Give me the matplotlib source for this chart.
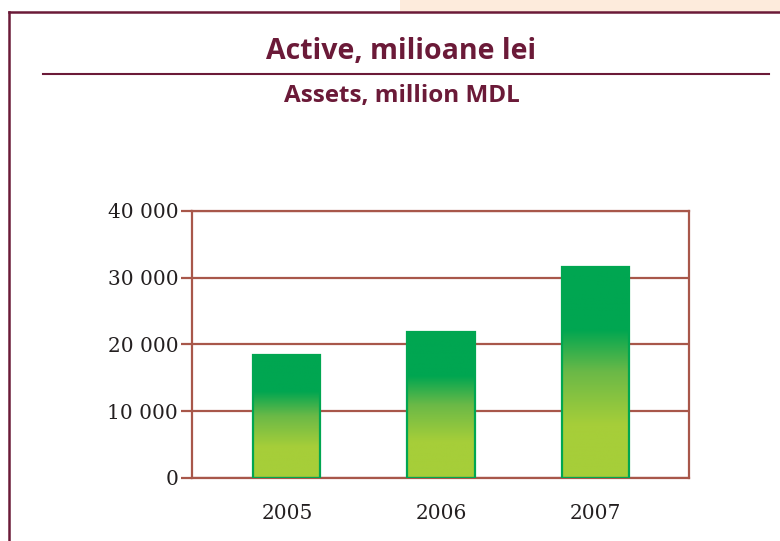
import numpy as np
import matplotlib
matplotlib.use('Agg')
import matplotlib.pyplot as plt
from matplotlib.colors import LinearSegmentedColormap
from matplotlib.patches import Rectangle
from matplotlib.lines import Line2D
from matplotlib.ticker import FuncFormatter

# Datos
years = ['2005', '2006', '2007']
assets = [18450, 21850, 31650]
y_ticks = [0, 10000, 20000, 30000, 40000]

title_ro = 'Active, milioane lei'
title_en = 'Assets, million MDL'

maroon = '#6b1a38'
grid_col = '#a8574a'
green = '#00a651'
lime = '#a6ce39'

fig = plt.figure(figsize=(7.8, 5.41), dpi=100)

# Marco exterior y franja beige
fig.patches.append(Rectangle((0.513, 0.977), 0.49, 0.03, transform=fig.transFigure,
                             facecolor='#fdebdc', edgecolor='none', zorder=0))
fig.lines.append(Line2D([0.0115, 0.0115], [-0.01, 0.977], transform=fig.transFigure,
                        color=maroon, lw=1.8))
fig.lines.append(Line2D([0.0115, 1.01], [0.977, 0.977], transform=fig.transFigure,
                        color=maroon, lw=1.8))

# Titulos
fig.text(0.514, 0.904, title_ro, ha='center', va='center', color=maroon,
         fontsize=20.5, fontweight='bold', family='Open Sans')
fig.lines.append(Line2D([0.055, 0.986], [0.864, 0.864], transform=fig.transFigure,
                        color=maroon, lw=1.5))
fig.text(0.515, 0.823, title_en, ha='center', va='center', color=maroon,
         fontsize=17.5, fontweight='bold', family='Open Sans')

ax = fig.add_axes([0.2462, 0.1165, 0.6372, 0.4935])
x = np.arange(len(years))

# Gradiente: verde arriba, verde-lima abajo
cmap = LinearSegmentedColormap.from_list('g', [(0, lime), (0.25, lime), (0.5, '#6bb947'),
                                               (0.7, green), (1, green)])
grad = np.linspace(0, 1, 256).reshape(-1, 1)

bars = ax.bar(x, assets, width=0.435, facecolor='none', edgecolor=green, linewidth=1.6, zorder=3)
for b in bars:
    x0, w, h = b.get_x(), b.get_width(), b.get_height()
    im = ax.imshow(grad, cmap=cmap, aspect='auto', origin='lower',
                   extent=(x0, x0 + w, 0, h), zorder=2)
    im.set_clip_path(b)

ax.set_xlim(-0.616, 2.61)
ax.set_ylim(0, 40000)
ax.set_yticks(y_ticks)
ax.yaxis.set_major_formatter(FuncFormatter(lambda v, p: f'{int(v):,}'.replace(',', ' ')))
ax.set_xticks(x)
ax.set_xticklabels(years)

ax.grid(axis='y', color=grid_col, lw=1.6, zorder=1)
for s in ax.spines.values():
    s.set_color(grid_col)
    s.set_linewidth(1.6)

ax.tick_params(axis='y', length=8, width=1.6, color=grid_col, labelsize=14.5,
               labelcolor='#231f20', pad=2)
ax.tick_params(axis='x', length=0, labelsize=14.5, labelcolor='#231f20', pad=19)
for lab in ax.get_xticklabels() + ax.get_yticklabels():
    lab.set_family('DejaVu Serif')

fig.savefig('out.png', dpi=100)
